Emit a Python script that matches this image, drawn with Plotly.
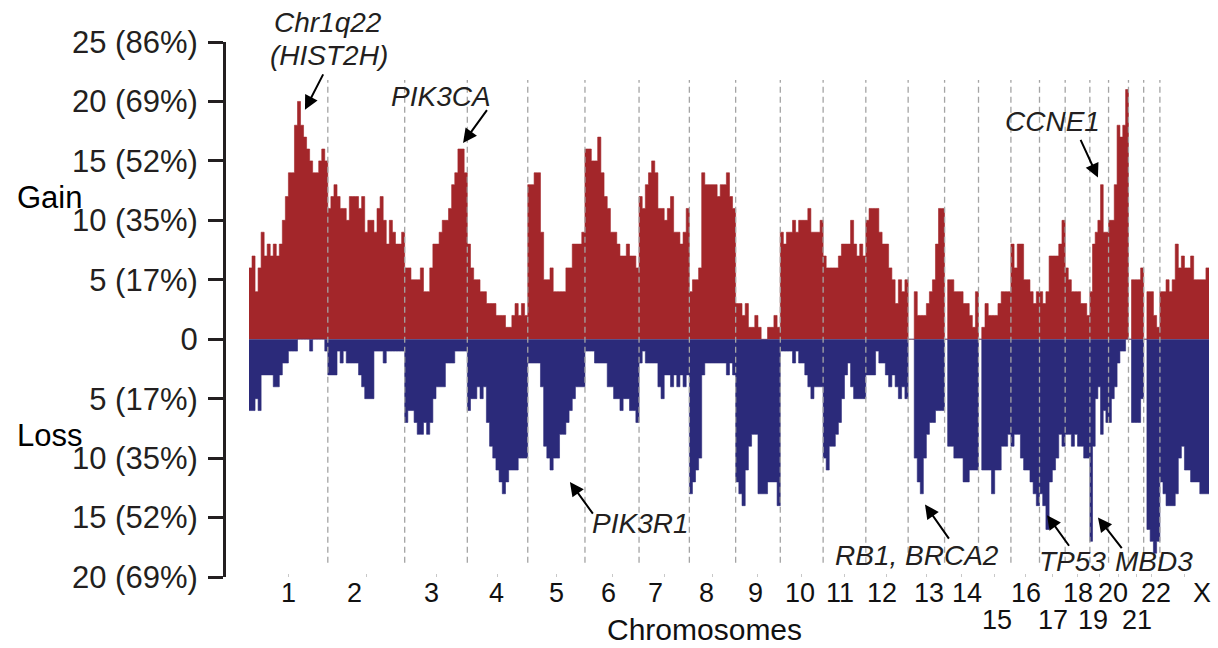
import plotly.graph_objects as go

# ---------------- data ----------------
chrom_names = ["1", "2", "3", "4", "5", "6", "7", "8", "9", "10", "11", "12",
               "13", "14", "15", "16", "17", "18", "19", "20", "21", "22", "X"]
chrom_sizes_mb = [249.25, 243.2, 198.0, 191.2, 180.9, 171.1, 159.1, 146.4, 141.2,
                  135.5, 135.0, 133.9, 115.2, 107.3, 102.5, 90.4, 81.2, 78.1,
                  59.1, 63.0, 48.1, 51.3, 155.3]

# number of samples with gain, per equal-width bin along each chromosome
gain_counts = [
    [6, 7, 4, 6, 9, 7, 8, 7, 8, 7, 8, 10, 12, 14, 14, 18, 20, 18, 17, 16, 15, 14, 14, 15, 16, 15],
    [11, 12, 13, 12, 11, 11, 10, 12, 12, 12, 11, 12, 9, 10, 10, 9, 11, 12, 10, 8, 10, 9, 8, 8, 9],
    [6, 6, 5, 5, 5, 6, 4, 4, 6, 8, 8, 9, 10, 10, 11, 13, 14, 16, 16, 14],
    [8, 6, 5, 5, 4, 4, 3, 3, 3, 2, 2, 2, 1, 1, 2, 3, 2, 3, 2],
    [13, 13, 14, 14, 9, 5, 5, 6, 4, 4, 4, 4, 6, 6, 8, 8, 8, 9],
    [16, 16, 15, 15, 17, 14, 12, 11, 9, 9, 8, 7, 7, 8, 7, 7, 6],
    [12, 11, 13, 14, 15, 14, 11, 11, 10, 11, 12, 9, 9, 8, 9, 11],
    [4, 5, 5, 6, 14, 13, 13, 13, 13, 12, 13, 13, 14, 12, 11],
    [3, 3, 2, 3, 1, 1, 2, 1, 0, 0, 1, 1, 2, 1],
    [9, 8, 9, 9, 10, 9, 10, 10, 10, 11, 9, 9, 9, 10],
    [7, 6, 6, 6, 6, 7, 8, 8, 8, 10, 8, 7, 8, 7],
    [10, 11, 11, 11, 9, 8, 8, 6, 5, 3, 5, 4, 5],
    [0, 0, 4, 2, 2, 2, 3, 4, 5, 8, 11, 11],
    [0, 5, 5, 4, 4, 4, 3, 3, 2, 1, 4],
    [0, 1, 3, 2, 2, 2, 3, 4, 4, 4],
    [8, 6, 8, 8, 5, 5, 4, 3, 4],
    [4, 3, 4, 7, 7, 7, 8, 10],
    [6, 5, 4, 4, 4, 3, 3, 2],
    [4, 8, 9, 10, 13, 9, 9],
    [10, 10, 13, 18, 17, 18, 21],
    [0, 5, 5, 5, 6],
    [0, 4, 4, 2, 1],
    [4, 4, 5, 4, 5, 8, 6, 7, 6, 6, 7, 5, 5, 5, 5, 6],
]

# number of samples with loss, per equal-width bin along each chromosome
loss_counts = [
    [6, 6, 5, 6, 3, 3, 3, 3, 4, 4, 3, 2, 2, 1, 1, 1, 0, 0, 0, 0, 1, 0, 0, 0, 0, 1],
    [3, 3, 3, 1, 2, 1, 2, 2, 2, 2, 3, 4, 5, 5, 5, 1, 1, 1, 2, 1, 1, 1, 1, 1, 1],
    [7, 6, 6, 7, 8, 8, 7, 8, 7, 5, 4, 4, 4, 2, 2, 2, 1, 1, 1, 1],
    [6, 5, 5, 4, 5, 4, 7, 9, 10, 11, 12, 13, 12, 11, 11, 11, 10, 10, 10],
    [2, 2, 2, 2, 4, 9, 10, 11, 10, 10, 8, 8, 7, 6, 5, 4, 4, 4],
    [1, 1, 1, 2, 2, 2, 2, 4, 4, 5, 5, 6, 5, 5, 6, 6, 7],
    [2, 1, 2, 2, 2, 2, 4, 5, 3, 3, 4, 3, 4, 3, 4, 3],
    [13, 12, 11, 10, 3, 2, 2, 2, 2, 2, 2, 2, 3, 2, 3],
    [12, 13, 14, 11, 9, 8, 8, 13, 13, 13, 12, 12, 12, 14],
    [1, 1, 1, 1, 2, 1, 2, 2, 3, 4, 5, 4, 4, 4],
    [10, 11, 9, 9, 8, 7, 5, 3, 2, 4, 5, 5, 5, 5],
    [3, 3, 3, 1, 2, 2, 3, 4, 3, 4, 5, 4, 5],
    [0, 0, 10, 12, 13, 10, 8, 7, 7, 6, 6, 6],
    [0, 9, 9, 10, 10, 10, 12, 12, 11, 11, 11],
    [0, 11, 11, 11, 13, 11, 11, 9, 9, 8],
    [9, 8, 8, 10, 11, 11, 12, 13, 14],
    [13, 14, 16, 12, 11, 10, 8, 9],
    [8, 8, 9, 8, 9, 9, 10, 10],
    [17, 9, 5, 4, 8, 6, 7],
    [7, 5, 4, 2, 1, 1, 0],
    [0, 7, 7, 7, 5],
    [0, 16, 17, 18, 17],
    [12, 13, 14, 14, 14, 13, 10, 9, 11, 11, 12, 12, 12, 13, 13, 13],
]

# chromosome label positions on the genome axis (Mb) and label row (0 = upper, 1 = lower)
label_pos_mb = [126, 335, 576, 784, 971, 1136, 1287, 1448, 1603, 1743, 1869, 2002,
                2150, 2271, 2366, 2457, 2543, 2622, 2669, 2732, 2808, 2868, 3014]
label_row = [0, 0, 0, 0, 0, 0, 0, 0, 0, 0, 0, 0, 0, 0, 1, 0, 1, 0, 1, 0, 1, 0, 0]

y_tick_vals = [25, 20, 15, 10, 5, 0, -5, -10, -15, -20]
y_tick_text = ["25 (86%)", "20 (69%)", "15 (52%)", "10 (35%)", "5 (17%)", "0",
               "5 (17%)", "10 (35%)", "15 (52%)", "20 (69%)"]

# gene annotations: text, text position, arrow head, arrow tail (Mb, count)
gene_labels = ["Chr1q22", "(HIST2H)", "PIK3CA", "CCNE1", "PIK3R1", "RB1, BRCA2", "TP53", "MBD3"]
gene_label_x = [250, 253, 607, 2540, 1237, 2113, 2603, 2862]
gene_label_y = [26.6, 23.9, 20.4, 18.3, -15.5, -18.2, -18.7, -18.7]
arrow_head_x = [177, 677, 2685, 1015, 2138, 2524, 2685]
arrow_head_y = [19.3, 16.5, 13.6, -12.0, -13.9, -14.8, -15.0]
arrow_tail_x = [237, 756, 2628, 1091, 2217, 2597, 2764]
arrow_tail_y = [22.4, 19.4, 16.9, -14.8, -16.9, -17.5, -17.7]

# ---------------- build step profiles ----------------
RED = "#a3262a"
BLUE = "#2b2a7a"
TXT = "#231f20"
FONT = "Liberation Sans, Arial, sans-serif"

Y_MIN, Y_MAX = -20, 25
PLOT_TOP_PX, PLOT_BOTTOM_PX = 42, 577
PLOT_LEFT_PX = 226
PX_PER_MB = 0.3162
DATA_LEFT_PX = 249


def py_to_paper(v):
    # convert a count value to a paper fraction (for labels outside the axis range)
    return (v - Y_MIN) / (Y_MAX - Y_MIN)


edge_x, gain_y, loss_y = [], [], []
starts, centers = [], []
pos = 0.0
for size, g, l in zip(chrom_sizes_mb, gain_counts, loss_counts):
    starts.append(pos)
    centers.append(pos + size / 2)
    n = len(g)
    w = size / n
    for i in range(n):
        edge_x.append(pos + i * w)
        gain_y.append(g[i])
        loss_y.append(-l[i])
    pos += size
genome_end = pos
edge_x.append(genome_end)
gain_y.append(gain_y[-1])
loss_y.append(loss_y[-1])
boundaries = [s + z for s, z in zip(starts, chrom_sizes_mb)][:-1]

x_left = -(DATA_LEFT_PX - PLOT_LEFT_PX) / PX_PER_MB
plot_right_px = DATA_LEFT_PX + genome_end * PX_PER_MB
plot_w_px = plot_right_px - PLOT_LEFT_PX

fig = go.Figure()
fig.add_trace(go.Scatter(x=edge_x, y=gain_y, mode="lines",
                         line=dict(shape="hv", width=0.6, color=RED),
                         fill="tozeroy", fillcolor=RED, showlegend=False, hoverinfo="skip"))
fig.add_trace(go.Scatter(x=edge_x, y=loss_y, mode="lines",
                         line=dict(shape="hv", width=0.6, color=BLUE),
                         fill="tozeroy", fillcolor=BLUE, showlegend=False, hoverinfo="skip"))

# chromosome boundary dashed lines
for b in boundaries:
    fig.add_shape(type="line", x0=b, x1=b, y0=-18.8, y1=21.8, xref="x", yref="y",
                  line=dict(color="#a4a4a4", width=1.3, dash="6px,4px"), layer="above")

annotations = []
# chromosome labels
for name, p, r in zip(chrom_names, label_pos_mb, label_row):
    annotations.append(dict(x=p, y=py_to_paper(-21.35 if r == 0 else -23.6), xref="x", yref="paper",
                            text=name, showarrow=False, xanchor="center", yanchor="middle",
                            font=dict(family=FONT, size=27, color="#111111")))
annotations.append(dict(x=(705 - PLOT_LEFT_PX) / plot_w_px, y=py_to_paper(-24.45), xref="paper",
                        yref="paper", text="Chromosomes", showarrow=False, xanchor="center",
                        yanchor="middle", borderpad=0,
                        font=dict(family=FONT, size=30, color="#111111")))
annotations.append(dict(x=(15 - PLOT_LEFT_PX) / plot_w_px, y=py_to_paper(11.9), xref="paper",
                        yref="paper", text="Gain", showarrow=False, xanchor="left", yanchor="middle",
                        font=dict(family=FONT, size=31, color="#000000")))
annotations.append(dict(x=(15 - PLOT_LEFT_PX) / plot_w_px, y=py_to_paper(-8.06), xref="paper",
                        yref="paper", text="Loss", showarrow=False, xanchor="left", yanchor="middle",
                        font=dict(family=FONT, size=31, color="#000000")))
# gene labels
for t, gx, gy in zip(gene_labels, gene_label_x, gene_label_y):
    annotations.append(dict(x=gx, y=py_to_paper(gy), xref="x", yref="paper", text="<i>" + t + "</i>",
                            showarrow=False, xanchor="center", yanchor="middle",
                            font=dict(family=FONT, size=28, color=TXT)))
# arrows
for hx, hy, tx, ty in zip(arrow_head_x, arrow_head_y, arrow_tail_x, arrow_tail_y):
    annotations.append(dict(x=hx, y=hy, ax=tx, ay=ty, xref="x", yref="y", axref="x", ayref="y",
                            text="", showarrow=True, arrowhead=2, arrowsize=1.4,
                            arrowwidth=2, arrowcolor="#000000", standoff=0, startstandoff=0))

fig.update_layout(
    width=1218, height=648,
    margin=dict(l=PLOT_LEFT_PX, r=1218 - plot_right_px, t=PLOT_TOP_PX, b=648 - PLOT_BOTTOM_PX),
    paper_bgcolor="white", plot_bgcolor="white",
    showlegend=False,
    annotations=annotations,
    font=dict(family=FONT, color=TXT),
)
fig.update_xaxes(range=[x_left, genome_end], showgrid=False, zeroline=False, showline=False,
                 tickvals=centers, ticks="inside", ticklen=3, tickwidth=1, tickcolor="#c8c8c8",
                 showticklabels=False, fixedrange=True)
fig.update_yaxes(range=[Y_MIN, Y_MAX], showgrid=False, zeroline=False, showline=True,
                 linewidth=3, linecolor=TXT, mirror=False,
                 tickvals=y_tick_vals, ticktext=y_tick_text, ticks="outside", ticklen=15,
                 tickwidth=3, tickcolor=TXT, ticklabelstandoff=4,
                 tickfont=dict(family=FONT, size=31, color=TXT), fixedrange=True)

fig.write_html("out.html")
